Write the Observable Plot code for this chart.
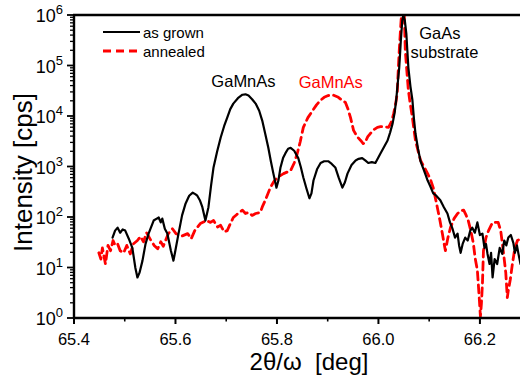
<!DOCTYPE html>
<html>
<head>
<meta charset="utf-8">
<script src="https://cdn.jsdelivr.net/npm/d3@7"></script>
<script src="https://cdn.jsdelivr.net/npm/@observablehq/plot@0.6"></script>
<style>
  html, body { margin: 0; padding: 0; background: #fff; }
  #chart svg { display: block; }
</style>
</head>
<body>
<div id="chart"></div>
<script>
// ---------- data ----------
const seriesNames = ["as grown", "annealed"];
const seriesColors = ["#000000", "#ff0000"];

const grownAngle = [65.475,65.480,65.485,65.490,65.495,65.500,65.507,65.514,65.520,65.524,65.528,65.534,65.540,65.546,65.556,65.562,65.566,65.570,65.573,65.578,65.583,65.590,65.595,65.598,65.605,65.612,65.619,65.626,65.633,65.638,65.642,65.647,65.652,65.658,65.664,65.669,65.674,65.681,65.688,65.695,65.701,65.707,65.713,65.722,65.731,65.737,65.743,65.750,65.757,65.764,65.770,65.776,65.782,65.787,65.792,65.798,65.802,65.806,65.811,65.816,65.821,65.826,65.833,65.841,65.846,65.851,65.857,65.863,65.867,65.871,65.878,65.885,65.892,65.900,65.907,65.914,65.921,65.928,65.933,65.938,65.946,65.954,65.960,65.967,65.973,65.979,65.986,65.993,66.003,66.010,66.017,66.022,66.027,66.031,66.034,66.037,66.040,66.043,66.046,66.048,66.051,66.054,66.056,66.058,66.062,66.066,66.069,66.072,66.077,66.082,66.088,66.092,66.096,66.101,66.107,66.113,66.121,66.128,66.135,66.140,66.145,66.150,66.155,66.158,66.161,66.165,66.170,66.175,66.180,66.184,66.189,66.194,66.199,66.204,66.208,66.211,66.214,66.218,66.221,66.224,66.228,66.233,66.238,66.243,66.247,66.251,66.255,66.260,66.265,66.268,66.272,66.275,66.279];
const grownIntensity = [40,55,63,50,58,55,38,25,10,6.5,8,14,30,48,87,95,100,80,95,60,48,22,14,20,48,110,190,270,310,290,270,220,160,87,160,420,980,2000,3800,6500,9500,14000,18000,23000,27000,27500,26000,22000,18000,13000,8300,4500,2400,1300,740,390,550,980,1500,1900,2300,2400,2100,1500,1000,620,380,240,300,540,900,1200,1300,1300,1150,980,600,390,500,740,1100,1350,1450,1500,1350,1200,1250,1200,1850,2500,3350,4800,7300,12000,21000,45000,93000,300000,800000,1000000,800000,440000,200000,93000,40000,21000,9000,4600,2300,1300,900,700,540,420,300,270,220,160,120,80,60,40,48,28,20,30,40,35,55,63,50,80,45,48,25,30,19,12,20,6.5,15,12,25,19,35,28,40,45,31,20,28,19,12];

const annealedAngle = [65.448,65.452,65.455,65.461,65.466,65.471,65.476,65.480,65.485,65.490,65.497,65.503,65.510,65.516,65.524,65.530,65.536,65.542,65.550,65.557,65.564,65.570,65.575,65.585,65.593,65.600,65.612,65.623,65.630,65.637,65.648,65.660,65.668,65.674,65.682,65.688,65.695,65.701,65.707,65.713,65.720,65.731,65.737,65.743,65.750,65.757,65.766,65.771,65.776,65.786,65.793,65.800,65.812,65.826,65.833,65.839,65.845,65.851,65.860,65.869,65.877,65.885,65.892,65.900,65.910,65.920,65.927,65.934,65.939,65.944,65.950,65.957,65.964,65.969,65.973,65.978,65.983,65.990,65.997,66.003,66.009,66.014,66.019,66.025,66.029,66.033,66.036,66.038,66.040,66.044,66.048,66.050,66.052,66.055,66.058,66.062,66.066,66.069,66.072,66.077,66.082,66.089,66.096,66.102,66.107,66.111,66.115,66.120,66.125,66.128,66.131,66.136,66.141,66.148,66.155,66.161,66.167,66.172,66.176,66.181,66.186,66.190,66.194,66.198,66.200,66.202,66.204,66.206,66.211,66.216,66.224,66.229,66.235,66.240,66.245,66.250,66.253,66.255,66.259,66.263,66.268,66.273,66.279];
const annealedIntensity = [20,15,25,12,28,22,35,28,30,22,20,28,19,30,35,42,33,50,36,28,24,33,27,48,60,48,43,48,38,55,76,87,80,87,65,70,52,55,75,100,115,140,120,126,110,120,126,170,220,390,520,620,740,850,1200,1850,3200,6100,9500,13000,17000,21000,24000,26000,26500,24000,21000,19000,14000,9500,5300,4000,3350,2900,3100,4000,4600,5500,6100,6300,6300,6200,6100,8000,11400,18000,28500,80000,200000,910000,1000000,1000000,200000,80000,33000,17000,9500,5500,3350,2100,1350,1000,740,550,390,250,160,90,48,32,22,40,63,95,120,135,140,110,87,55,31,15,9,2.3,1.1,2,4.9,22,40,55,80,80,80,55,22,8,2.6,3.6,6,12,25,35,38];

const xDomain = [65.4, 66.279];
const xTicks = [65.4, 65.6, 65.8, 66.0, 66.2];
const xTickLabels = ["65.4", "65.6", "65.8", "66.0", "66.2"];
const xMinorTicks = [65.5, 65.7, 65.9, 66.1];
const yTicks = [1, 10, 100, 1000, 10000, 100000, 1000000];
const yTickExponents = ["0", "1", "2", "3", "4", "5", "6"];
const xLabel = "2\u03b8/\u03c9  [deg]";
const yLabel = "Intensity [cps]";

const annotationText = ["GaMnAs", "GaMnAs", "GaAs", "substrate"];
const annotationAngle = [65.733, 65.905, 66.120, 66.129];
const annotationIntensity = [49300, 47100, 440000, 185000];
const annotationColor = ["#000000", "#ff0000", "#000000", "#000000"];

// ---------- build tables ----------
const grown = grownAngle.map((x, i) => ({x, y: grownIntensity[i]}));
const annealed = annealedAngle.map((x, i) => ({x, y: annealedIntensity[i]}));
const annotations = annotationText.map((t, i) => ({t, x: annotationAngle[i], y: annotationIntensity[i], c: annotationColor[i]}));
const yMinor = [];
for (let d = 0; d < 6; d++) for (let k = 2; k <= 9; k++) yMinor.push(k * Math.pow(10, d));

const FONT = "'Liberation Sans', Arial, Helvetica, sans-serif";
const dashRed = "8,5";

function axesAndLegend(index, scales, values, dims) {
  const x = scales.x, y = scales.y;
  const x0 = dims.marginLeft, x1 = dims.width - dims.marginRight;
  const yb = dims.height - dims.marginBottom, yt = dims.marginTop;
  const g = d3.create("svg:g").attr("font-family", FONT).attr("fill", "#000").attr("text-anchor", "start");
  const line = (a, b, c, d, w) => g.append("line").attr("x1", a).attr("y1", b).attr("x2", c).attr("y2", d)
    .attr("stroke", "#000").attr("stroke-width", w);
  // frame: left, top, bottom
  line(x0, yt - 1, x0, yb + 1, 2.4);
  line(x0 - 1, yt, x1, yt, 2.4);
  line(x0 - 1, yb, x1, yb, 2.4);
  // x ticks
  for (const v of xTicks) line(x(v), yb, x(v), yb + 6, 2);
  for (const v of xMinorTicks) line(x(v), yb, x(v), yb + 3.5, 1.6);
  xTicks.forEach((v, i) => {
    g.append("text").attr("x", x(v)).attr("y", yb + 27).attr("text-anchor", "middle")
      .attr("font-size", 16.5).text(xTickLabels[i]);
  });
  // y ticks
  for (const v of yTicks) line(x0 - 7, y(v), x0, y(v), 1.8);
  for (const v of yMinor) line(x0 - 4, y(v), x0, y(v), 1.3);
  yTicks.forEach((v, i) => {
    const t = g.append("text").attr("x", x0 - 11).attr("y", y(v) + 7).attr("text-anchor", "end")
      .attr("font-size", 18);
    t.append("tspan").text("10");
    t.append("tspan").attr("font-size", 13).attr("dy", -8).text(yTickExponents[i]);
  });
  // axis titles
  g.append("text").attr("x", 309).attr("y", 370).attr("text-anchor", "middle")
    .attr("font-size", 24).text(xLabel);
  g.append("text").attr("transform", `translate(32,${(yt + yb) / 2 + 6}) rotate(-90)`)
    .attr("text-anchor", "middle").attr("font-size", 26).text(yLabel);
  // legend
  const lx = x0 + 29, ly = yt + 17;
  seriesNames.forEach((name, i) => {
    const yy = ly + i * 19;
    g.append("line").attr("x1", lx).attr("x2", lx + 37).attr("y1", yy).attr("y2", yy)
      .attr("stroke", seriesColors[i]).attr("stroke-width", i ? 2.8 : 2.2)
      .attr("stroke-dasharray", i ? dashRed : null);
    g.append("text").attr("x", lx + 40).attr("y", yy + 5.5).attr("text-anchor", "start")
      .attr("font-size", 15).text(name);
  });
  return g.node();
}

const chart = Plot.plot({
  width: 520,
  height: 378,
  marginLeft: 74,
  marginRight: 0,
  marginTop: 15,
  marginBottom: 60,
  style: {background: "#fff", fontFamily: FONT},
  x: {domain: xDomain, axis: null},
  y: {type: "log", domain: [1, 1e6], axis: null},
  marks: [
    Plot.line(annealed, {x: "x", y: "y", stroke: seriesColors[1], strokeWidth: 2.8, strokeDasharray: dashRed, clip: true}),
    Plot.line(grown, {x: "x", y: "y", stroke: seriesColors[0], strokeWidth: 2.2, clip: true}),
    Plot.text(annotations, {x: "x", y: "y", text: "t", fill: "c", fontSize: 16.5, fontFamily: FONT}),
    axesAndLegend
  ]
});
document.getElementById("chart").appendChild(chart);
</script>
</body>
</html>
